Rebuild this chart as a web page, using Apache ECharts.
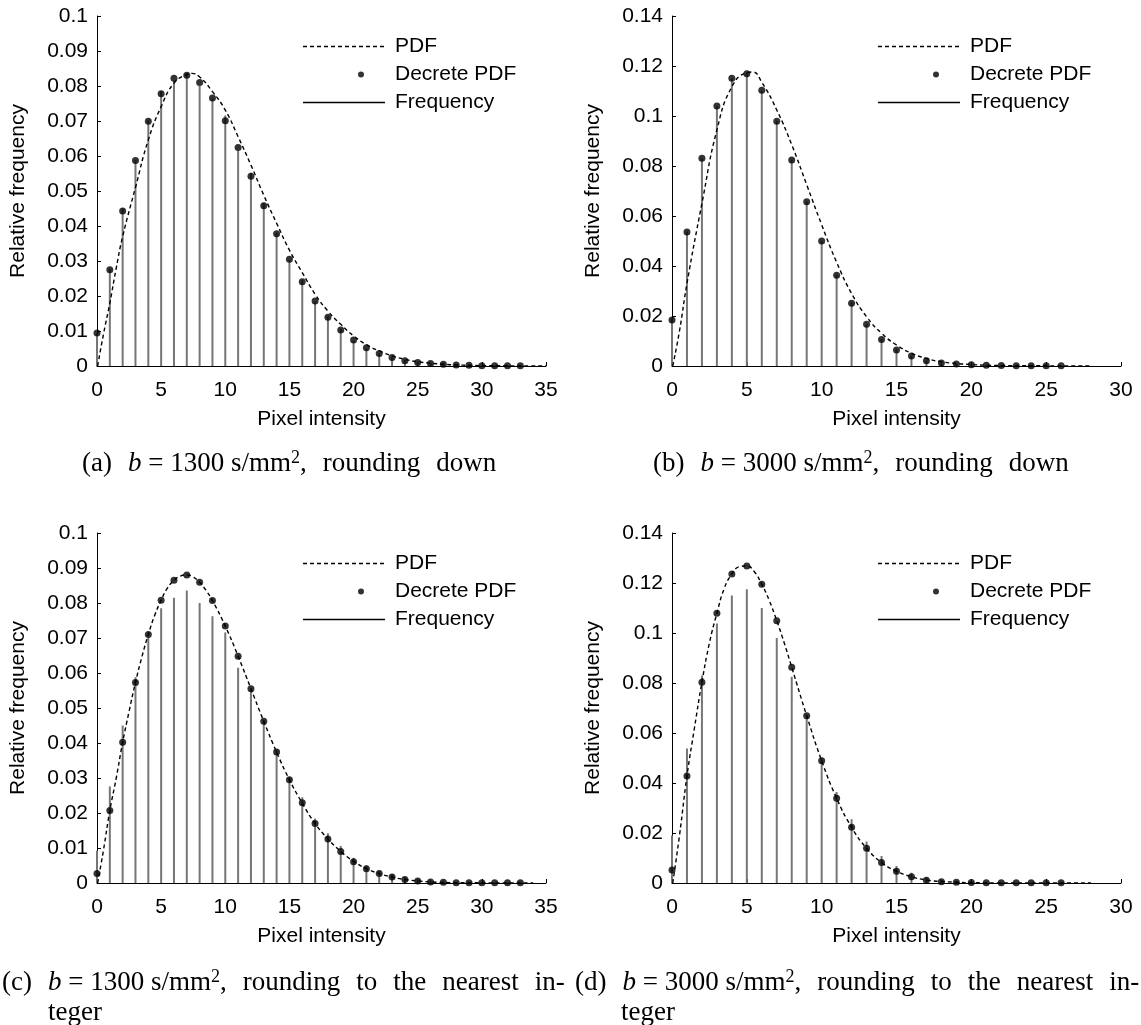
<!DOCTYPE html>
<html><head><meta charset="utf-8">
<script src="https://cdn.jsdelivr.net/npm/echarts@6/dist/echarts.min.js"></script>
<style>html,body{margin:0;padding:0;background:#fff}#c{width:1141px;height:1025px}</style>
</head><body><div id="c"></div>
<script>
// ---------- data ----------
const intensity1300 = [0,1,2,3,4,5,6,7,8,9,10,11,12,13,14,15,16,17,18,19,20,21,22,23,24,25,26,27,28,29,30,31,32,33];
const intensity3000 = [0,1,2,3,4,5,6,7,8,9,10,11,12,13,14,15,16,17,18,19,20,21,22,23,24,25,26];

// observed relative frequency (stems), shared by (a)/(c) and (b)/(d)
const freq1300 = [0.0092,0.0276,0.0450,0.0588,0.0702,0.0785,0.0815,0.0836,0.0800,0.0762,0.0716,0.0615,0.0552,0.0466,0.0380,0.0302,0.0245,0.0184,0.0142,0.0106,0.0072,0.0050,0.0036,0.0025,0.0017,0.0011,0.0008,0.0005,0.0003,0.0002,0.0002,0.0001,0.0001,0.0001];
const freq3000 = [0.0190,0.0538,0.0830,0.1038,0.1150,0.1175,0.1100,0.0980,0.0825,0.0658,0.0500,0.0364,0.0255,0.0166,0.0108,0.0068,0.0041,0.0022,0.0013,0.0008,0.0005,0.0003,0.0002,0.0001,0.0001,0.0001,0.0001];

// discrete PDF
const dpdf1300Down = [0.0094,0.0275,0.0443,0.0587,0.0699,0.0778,0.0822,0.0831,0.0810,0.0766,0.0701,0.0624,0.0542,0.0458,0.0378,0.0305,0.0241,0.0186,0.0139,0.0103,0.0074,0.0052,0.0036,0.0024,0.0015,0.0010,0.0007,0.0005,0.0003,0.0002,0.0001,0.0001,0.0001,0.0001];
const dpdf3000Down = [0.0184,0.0536,0.0831,0.1040,0.1151,0.1169,0.1103,0.0979,0.0824,0.0657,0.0500,0.0363,0.0251,0.0167,0.0106,0.0064,0.0040,0.0021,0.0012,0.0008,0.0005,0.0003,0.0002,0.0001,0.0001,0.0001,0.0001];
const dpdf1300Near = [0.0027,0.0207,0.0402,0.0573,0.0710,0.0808,0.0865,0.0880,0.0859,0.0807,0.0734,0.0648,0.0555,0.0462,0.0374,0.0295,0.0229,0.0170,0.0126,0.0090,0.0061,0.0041,0.0027,0.0017,0.0010,0.0006,0.0003,0.0002,0.0001,0.0001,0.0001,0.0001,0.0001,0.0001];
const dpdf3000Near = [0.0052,0.0428,0.0803,0.1079,0.1236,0.1268,0.1195,0.1049,0.0863,0.0669,0.0489,0.0339,0.0223,0.0139,0.0082,0.0047,0.0025,0.0011,0.0005,0.0003,0.0002,0.0001,0.0001,0.0001,0.0001,0.0001,0.0001];

// continuous PDF curves (x, density)
const pdfAx = [0.05,0.5,1,1.5,2,3,4,5,6,7,7.4,8,9,10,11,12,13,14,15,16,17,18,19,20,21,22,23,24,25,26,27,28,29,30,32,35];
const pdfAy = [0,0.009,0.018,0.028,0.037,0.051,0.0646,0.0741,0.0808,0.0833,0.0836,0.0826,0.0784,0.0731,0.0655,0.0574,0.0488,0.0408,0.0331,0.0267,0.0205,0.0157,0.0119,0.0086,0.0061,0.0043,0.0029,0.0019,0.0012,0.0008,0.0005,0.0003,0.0002,0.0001,0.00005,0];
const pdfBx = [0.05,0.5,1,2,3,4,5,5.4,6,7,8,9,10,11,12,13,14,15,16,17,18,19,20,21,22,24,28];
const pdfBy = [0,0.014,0.033,0.065,0.0944,0.1117,0.1173,0.1176,0.1135,0.1024,0.0885,0.0725,0.0565,0.0415,0.029,0.0197,0.0131,0.0084,0.0051,0.003,0.0017,0.001,0.0006,0.0003,0.0002,0.0001,0];
const pdfCx = [0.05,0.5,1,1.5,2,2.5,3,3.5,4,4.5,5,5.5,6,6.5,7,7.5,8,8.5,9,10,11,12,13,14,15,16,17,18,19,20,21,22,23,24,25,26,28,34];
const pdfCy = [0,0.0093,0.0207,0.030,0.0402,0.049,0.0573,0.0646,0.071,0.0765,0.0808,0.0843,0.0865,0.0877,0.0880,0.0874,0.0859,0.0836,0.0807,0.0734,0.0648,0.0555,0.0462,0.0374,0.0295,0.0228,0.017,0.0126,0.009,0.0062,0.0041,0.0027,0.0017,0.001,0.0006,0.0003,0.0001,0];
const pdfDx = [0.05,0.5,1,1.5,2,2.5,3,3.5,4,4.5,5,5.5,6,6.5,7,7.5,8,9,10,11,12,13,14,15,16,17,18,19,20,22,28];
const pdfDy = [0,0.019,0.0428,0.062,0.0803,0.096,0.1079,0.118,0.1236,0.1265,0.1268,0.1245,0.1195,0.113,0.1049,0.096,0.0863,0.0669,0.0489,0.0339,0.0223,0.0139,0.0082,0.0047,0.0025,0.0012,0.0006,0.0003,0.0001,0.00005,0];

const xMax = [35, 30, 35, 30];
const yMax = [0.1, 0.14, 0.1, 0.14];
const yStep = [0.01, 0.02, 0.01, 0.02];

const legendNames = ['PDF', 'Decrete PDF', 'Frequency'];
const xName = 'Pixel intensity';
const yName = 'Relative frequency';

// ---------- build ----------
const zip = (xs, ys) => xs.map((x, i) => [x, ys[i]]);
const panels = [
  {freq: zip(intensity1300, freq1300), dots: zip(intensity1300, dpdf1300Down), pdf: zip(pdfAx, pdfAy)},
  {freq: zip(intensity3000, freq3000), dots: zip(intensity3000, dpdf3000Down), pdf: zip(pdfBx, pdfBy)},
  {freq: zip(intensity1300, freq1300), dots: zip(intensity1300, dpdf1300Near), pdf: zip(pdfCx, pdfCy)},
  {freq: zip(intensity3000, freq3000), dots: zip(intensity3000, dpdf3000Near), pdf: zip(pdfDx, pdfDy)}
];

const SANS = 'Liberation Sans, Arial, Helvetica, sans-serif';
const SERIF = 'Liberation Serif, Times New Roman, serif';
const gridPos = [
  {left: 97, top: 16}, {left: 672, top: 16},
  {left: 97, top: 533}, {left: 672, top: 533}
];
const legendPos = [
  {left: 303, top: 36}, {left: 878, top: 36},
  {left: 303, top: 553}, {left: 878, top: 553}
];

// legend icons (82 x 8 boxes)
let dashIcon = 'path://M0,0M82,8';
for (let x = 0; x < 82; x += 7) {
  const w = Math.min(4, 82 - x);
  dashIcon += 'M' + x + ',3.3L' + (x + w) + ',3.3L' + (x + w) + ',4.7L' + x + ',4.7Z';
}
const dotIcon = 'path://M0,0M82,8M55,4A3,3,0,1,1,61,4A3,3,0,1,1,55,4Z';
const lineIcon = 'path://M0,0L82,0L82,1.3L0,1.3Z';

const grids = [], xAxes = [], yAxes = [], series = [], legends = [];
panels.forEach((p, i) => {
  grids.push({left: gridPos[i].left, top: gridPos[i].top, width: 449, height: 350, containLabel: false, outerBoundsMode: 'none'});
  xAxes.push({
    type: 'value', gridIndex: i, min: 0, max: xMax[i], interval: 5,
    splitLine: {show: false},
    axisLine: {lineStyle: {color: '#000', width: 1}},
    axisTick: {inside: true, length: 4, lineStyle: {color: '#000'}},
    axisLabel: {color: '#000', fontSize: 21, fontFamily: SANS, margin: 14},
    name: xName, nameLocation: 'middle', nameGap: 43,
    nameTextStyle: {color: '#000', fontSize: 21, fontFamily: SANS}
  });
  yAxes.push({
    type: 'value', gridIndex: i, min: 0, max: yMax[i], interval: yStep[i],
    splitLine: {show: false},
    axisLine: {show: true, lineStyle: {color: '#000', width: 1}},
    axisTick: {show: true, inside: true, length: 4, lineStyle: {color: '#000'}},
    axisLabel: {color: '#000', fontSize: 21, fontFamily: SANS, margin: 9},
    name: yName, nameLocation: 'middle', nameGap: 68,
    nameTextStyle: {color: '#000', fontSize: 21, fontFamily: SANS}
  });
  series.push({
    type: 'bar', name: legendNames[2], xAxisIndex: i, yAxisIndex: i,
    data: p.freq, barWidth: 2, itemStyle: {color: '#767676'}, z: 1, silent: true
  });
  series.push({
    type: 'line', name: legendNames[0], xAxisIndex: i, yAxisIndex: i,
    data: p.pdf, symbol: 'none', showSymbol: false, smooth: 0.5,
    lineStyle: {color: '#000', width: 1.4, type: [4, 3]}, z: 2, silent: true
  });
  series.push({
    type: 'scatter', name: legendNames[1], xAxisIndex: i, yAxisIndex: i,
    data: p.dots, symbol: 'circle', symbolSize: 7, itemStyle: {color: '#000'}, z: 3, silent: true
  });
  legends.push({
    orient: 'vertical', left: legendPos[i].left, top: legendPos[i].top,
    itemWidth: 82, itemHeight: 8, itemGap: 7, padding: 0, selectedMode: false,
    textStyle: {color: '#000', fontSize: 21, fontFamily: SANS, padding: [0, 0, 0, 5]},
    data: [
      {name: legendNames[0], icon: dashIcon, itemStyle: {color: '#000'}},
      {name: legendNames[1], icon: dotIcon, itemStyle: {color: '#000'}},
      {name: legendNames[2], icon: lineIcon, itemStyle: {color: '#000'}}
    ]
  });
});

const base = {fontFamily: SERIF, fontSize: 27, fontWeight: 'normal', color: '#000', lineHeight: 30};
const capRich = {
  t: Object.assign({}, base),
  i: Object.assign({}, base, {fontStyle: 'italic'}),
  s: {fontFamily: SERIF, fontSize: 18, fontWeight: 'normal', color: '#000', lineHeight: 18, verticalAlign: 'top'},
  g: Object.assign({}, base, {width: 16}),
  h: Object.assign({}, base, {width: 16})
};
function cap(label, bval, rest, gapStyle) {
  return '{t|(' + label + ')}{g| }{i|b}{t| = ' + bval + ' s/mm}{s|2}{t|,}' +
    rest.map(w => '{' + gapStyle + '| }{t|' + w + '}').join('');
}
const titles = [
  {left: 82, top: 449, text: cap('a', '1300', ['rounding', 'down'], 'g')},
  {left: 653, top: 449, text: cap('b', '3000', ['rounding', 'down'], 'g')},
  {left: 2, top: 968, text: cap('c', '1300', ['rounding', 'to', 'the', 'nearest', 'in-'], 'h')},
  {left: 48, top: 998, text: '{t|teger}'},
  {left: 575, top: 968, text: cap('d', '3000', ['rounding', 'to', 'the', 'nearest', 'in-'], 'h')},
  {left: 621, top: 998, text: '{t|teger}'}
].map(t => Object.assign(t, {padding: 0, textStyle: {fontWeight: 'normal', rich: capRich}}));

const chart = echarts.init(document.getElementById('c'), null, {renderer: 'canvas'});
chart.setOption({
  backgroundColor: '#fff',
  animation: false,
  title: titles,
  grid: grids, xAxis: xAxes, yAxis: yAxes, series: series, legend: legends
});
</script></body></html>
